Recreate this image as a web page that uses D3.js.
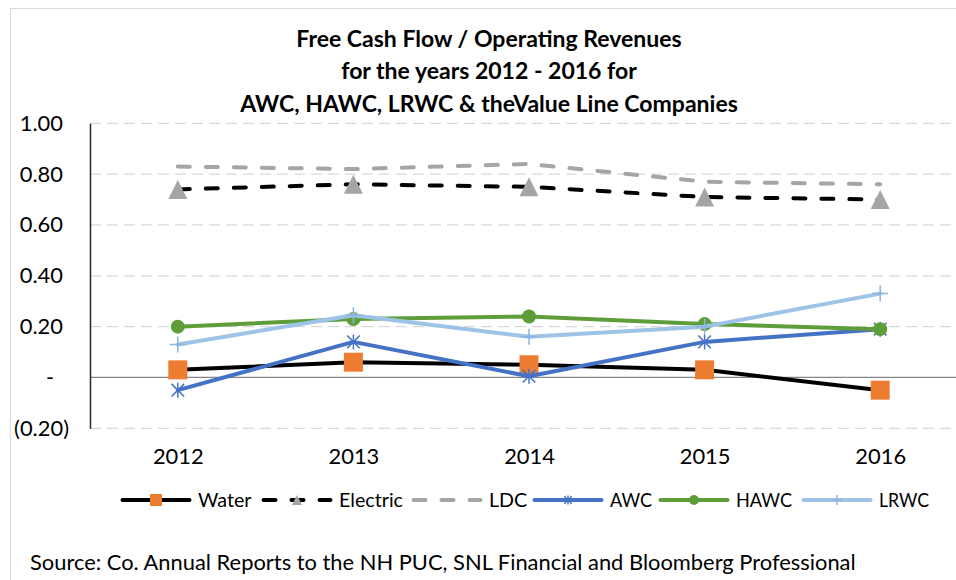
<!DOCTYPE html>
<html>
<head>
<meta charset="utf-8">
<script src="https://cdn.jsdelivr.net/npm/d3@7"></script>
<style>
  body { margin: 0; background: #fff; }
  svg { display: block; }
  text { font-family: Lato, "Open Sans", sans-serif; fill: #000; }
</style>
</head>
<body>
<svg id="chart" width="956" height="580"></svg>
<script>
// chart data
const years = ["2012", "2013", "2014", "2015", "2016"];
const water = [0.03, 0.06, 0.05, 0.03, -0.05];
const electric = [0.74, 0.76, 0.75, 0.71, 0.70];
const ldc = [0.83, 0.82, 0.84, 0.77, 0.76];
const awc = [-0.05, 0.14, 0.005, 0.14, 0.19];
const hawc = [0.20, 0.23, 0.24, 0.21, 0.19];
const lrwc = [0.13, 0.245, 0.16, 0.20, 0.33];
const yTicks = [-0.2, 0, 0.2, 0.4, 0.6, 0.8, 1.0];
const seriesNames = ["Water", "Electric", "LDC", "AWC", "HAWC", "LRWC"];
const titleLines = [
  "Free Cash Flow / Operating Revenues",
  "for the years 2012 - 2016 for",
  "AWC, HAWC, LRWC & theValue Line Companies"
];
const sourceNote = "Source: Co. Annual Reports to the NH PUC, SNL Financial and Bloomberg Professional";

// styles per series
const styles = {
  Water:    { color: "#000000", dash: null,    marker: "square",   mcolor: "#ED7D31" },
  Electric: { color: "#000000", dash: "12,16", marker: "triangle", mcolor: "#A5A5A5" },
  LDC:      { color: "#A5A5A5", dash: "12,16", marker: null,       mcolor: null },
  AWC:      { color: "#4472C4", dash: null,    marker: "star",     mcolor: "#4472C4" },
  HAWC:     { color: "#5E9E3A", dash: null,    marker: "circle",   mcolor: "#5E9E3A" },
  LRWC:     { color: "#9DC3E6", dash: null,    marker: "plus",     mcolor: "#8DB3E2" }
};
const seriesValues = [water, electric, ldc, awc, hawc, lrwc];

// legend layout: entry left edges and room for each label
const legendX = [121, 262, 412, 533, 659, 802];
const legendRoom = [54, 64, 40, 42, 56, 50];

const svg = d3.select("#chart");

// fit a font size so the text spans the wanted width
function fitSize(txt, weight, target) {
  const t = svg.append("text").attr("font-size", 100).attr("font-weight", weight).text(txt);
  const w = t.node().getComputedTextLength();
  t.remove();
  return 100 * target / w;
}
const fsRegular = fitSize(sourceNote, 400, 826);
const fsTitle = fitSize(titleLines[2], 700, 498);
const fsLegend = fsRegular * 0.9;

// outer chart border
svg.append("rect")
  .attr("x", 10.5).attr("y", 8.5)
  .attr("width", 960).attr("height", 600)
  .attr("fill", "none").attr("stroke", "#D9D9D9");

const x = d3.scalePoint().domain(years).range([90, 968]).padding(0.5);
const y = d3.scaleLinear().domain([-0.2, 1.0]).range([428.3, 123.3]);

// gridlines
svg.append("g").selectAll("line")
  .data(yTicks.filter(d => d !== 0))
  .join("line")
  .attr("x1", 90).attr("x2", 956)
  .attr("y1", d => y(d)).attr("y2", d => y(d))
  .attr("stroke", "#D9D9D9").attr("stroke-width", 1.3)
  .attr("stroke-dasharray", "11,6");

// horizontal axis line at zero
svg.append("line")
  .attr("x1", 90).attr("x2", 956)
  .attr("y1", y(0)).attr("y2", y(0))
  .attr("stroke", "#868686").attr("stroke-width", 1.2);

// y axis
const fmt = d => d === 0 ? "-" : d < 0 ? "(" + d3.format(".2f")(-d) + ")" : d3.format(".2f")(d);
const yAxis = svg.append("g")
  .attr("transform", "translate(90,0)")
  .call(d3.axisLeft(y).tickValues(yTicks).tickSize(0).tickSizeOuter(0).tickFormat(fmt));
yAxis.select(".domain").attr("stroke", "#262626").attr("stroke-width", 1.5);
yAxis.selectAll("text")
  .attr("font-size", fsRegular)
  .attr("font-family", null)
  .attr("fill", "#000")
  .attr("text-anchor", d => d === 0 ? "middle" : "end")
  .attr("x", d => d === 0 ? -40 : d < 0 ? -21 : -27);

// x axis labels
const xAxis = svg.append("g")
  .attr("transform", "translate(0,428.3)")
  .call(d3.axisBottom(x).tickSize(0));
xAxis.select(".domain").remove();
xAxis.selectAll("text")
  .attr("font-size", fsRegular)
  .attr("font-family", null)
  .attr("fill", "#000")
  .attr("y", 28).attr("dy", "0.35em");

// markers
function drawMarker(g, kind, color, s) {
  if (kind === "square") {
    g.append("rect").attr("x", -s / 2).attr("y", -s / 2).attr("width", s).attr("height", s).attr("fill", color);
  } else if (kind === "triangle") {
    g.append("path").attr("d", `M0,${-s / 2}L${s / 2},${s / 2}L${-s / 2},${s / 2}Z`).attr("fill", color);
  } else if (kind === "circle") {
    g.append("circle").attr("r", s / 2).attr("fill", color);
  } else if (kind === "star") {
    const h = s / 2, d = s * 0.42;
    g.append("path")
      .attr("d", `M0,${-h}V${h}M${-d},${-d}L${d},${d}M${-d},${d}L${d},${-d}`)
      .attr("stroke", color).attr("stroke-width", 1.5).attr("fill", "none");
  } else if (kind === "plus") {
    const h = s / 2;
    g.append("path")
      .attr("d", `M${-h},0H${h}M0,${-h}V${h}`)
      .attr("stroke", color).attr("stroke-width", 1.5).attr("fill", "none");
  }
}

const markerSize = { square: 19, triangle: 19, circle: 14, star: 15, plus: 16 };
const legendMarkerSize = { square: 12, triangle: 10, circle: 10, star: 9, plus: 10 };

const line = d3.line().x((d, i) => x(years[i])).y(d => y(d));

seriesNames.forEach((name, si) => {
  const st = styles[name];
  const vals = seriesValues[si];
  const g = svg.append("g");
  g.append("path")
    .attr("d", line(vals))
    .attr("fill", "none")
    .attr("stroke", st.color)
    .attr("stroke-width", 4)
    .attr("stroke-linecap", "round")
    .attr("stroke-linejoin", "round")
    .attr("stroke-dasharray", st.dash);
  if (st.marker) {
    vals.forEach((v, i) => {
      const m = g.append("g").attr("transform", `translate(${x(years[i])},${y(v)})`);
      drawMarker(m, st.marker, st.mcolor, markerSize[st.marker]);
    });
  }
});

// legend
const legend = svg.append("g").attr("transform", "translate(0,500)");
seriesNames.forEach((name, i) => {
  const st = styles[name];
  const it = legend.append("g").attr("transform", `translate(${legendX[i]},0)`);
  it.append("line")
    .attr("x1", 1.5).attr("x2", 68.5)
    .attr("stroke", st.color).attr("stroke-width", 4)
    .attr("stroke-linecap", "round")
    .attr("stroke-dasharray", st.dash);
  if (st.marker) {
    const m = it.append("g").attr("transform", "translate(35,0)");
    drawMarker(m, st.marker, st.mcolor, legendMarkerSize[st.marker]);
  }
  const t = it.append("text")
    .attr("x", 77).attr("dy", "0.35em")
    .attr("font-size", fsLegend)
    .text(name);
  if (t.node().getComputedTextLength() > legendRoom[i]) {
    t.attr("textLength", legendRoom[i]).attr("lengthAdjust", "spacingAndGlyphs");
  }
});

// title
svg.append("g").selectAll("text")
  .data(titleLines)
  .join("text")
  .attr("x", 489)
  .attr("y", (d, i) => 46.5 + i * 32.5)
  .attr("text-anchor", "middle")
  .attr("font-weight", 700)
  .attr("font-size", fsTitle)
  .text(d => d);

// source note
svg.append("text")
  .attr("x", 30).attr("y", 570)
  .attr("font-size", fsRegular)
  .text(sourceNote);
</script>
</body>
</html>
